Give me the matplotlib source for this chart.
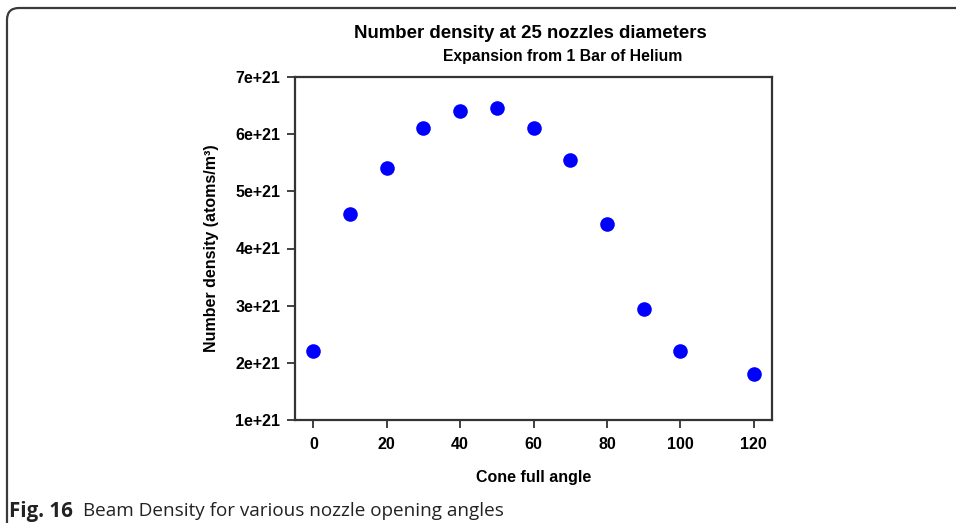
"""Beam number density versus nozzle cone angle."""

import matplotlib

matplotlib.use("Agg")

import matplotlib.pyplot as plt
from matplotlib.patches import FancyBboxPatch

# Cone full angle (deg) and number density (atoms/m^3)
angles = [0, 10, 20, 30, 40, 50, 60, 70, 80, 90, 100, 120]
density = [2.2e21, 4.6e21, 5.4e21, 6.1e21, 6.4e21, 6.45e21, 6.1e21,
           5.55e21, 4.42e21, 2.95e21, 2.2e21, 1.8e21]

x_ticks = [0, 20, 40, 60, 80, 100, 120]
y_ticks = [1e21, 2e21, 3e21, 4e21, 5e21, 6e21, 7e21]
y_tick_labels = ["1e+21", "2e+21", "3e+21", "4e+21", "5e+21", "6e+21", "7e+21"]

W, H = 956, 523
plt.rcParams["font.family"] = ["Liberation Sans", "DejaVu Sans"]

fig = plt.figure(figsize=(W / 100, H / 100), dpi=100)

# page frame and caption drawn in pixel units
page = fig.add_axes([0, 0, 1, 1])
page.set_xlim(0, W)
page.set_ylim(0, H)
page.axis("off")
page.add_patch(FancyBboxPatch((7, -60), W + 60, H - 8 + 60,
                              boxstyle="round,pad=0,rounding_size=12",
                              fill=False, edgecolor="#3a3a3a", lw=1.6))
cap_font = ["Open Sans", "DejaVu Sans"]
page.text(9, H - 511, "Fig. 16", fontsize=14.8, fontweight="bold",
          family=cap_font, va="center", ha="left", color="#222222")
page.text(83, H - 511, "Beam Density for various nozzle opening angles", fontsize=13.6,
          family=cap_font, va="center", ha="left", color="#222222")

ax = fig.add_axes([295 / W, 1 - 420 / H, (772 - 295) / W, (420 - 77) / H])
ax.plot(angles, density, "o", color="#0000ff", markersize=10.5, markeredgewidth=0)
ax.set_xlim(-5, 125)
ax.set_ylim(1e21, 7e21)
ax.set_xticks(x_ticks)
ax.set_xticklabels([str(v) for v in x_ticks])
ax.set_yticks(y_ticks)
ax.set_yticklabels(y_tick_labels)
for side in ax.spines.values():
    side.set_color("#333333")
    side.set_linewidth(1.6)
ax.tick_params(direction="out", length=5.5, width=1.3, color="#333333", labelsize=11.5)
ax.tick_params(axis="x", pad=7)
ax.tick_params(axis="y", pad=5)
for lab in ax.get_xticklabels() + ax.get_yticklabels():
    lab.set_fontweight("bold")
ax.set_xlabel("Cone full angle", fontsize=11.5, fontweight="bold", labelpad=13)
ax.set_ylabel("Number density (atoms/m³)", fontsize=11.5, fontweight="bold", labelpad=12)

fig.text(530 / W, 1 - 33 / H, "Number density at 25 nozzles diameters",
         fontsize=13.4, fontweight="bold", ha="center", va="center")
fig.text(563 / W, 1 - 57 / H, "Expansion from 1 Bar of Helium",
         fontsize=11.3, fontweight="bold", ha="center", va="center")

fig.savefig("out.png", dpi=100)
plt.close(fig)
